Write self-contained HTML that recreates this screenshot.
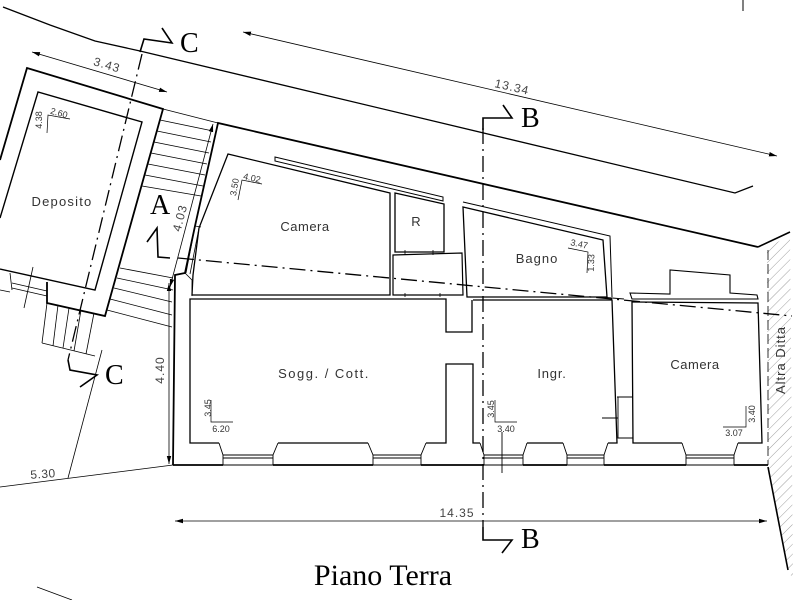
<!DOCTYPE html>
<html><head><meta charset="utf-8"><style>
html,body{margin:0;padding:0;background:#fff;}
svg{display:block}
text{font-family:"Liberation Sans",sans-serif;fill:#333}
.s{font-family:"Liberation Serif",serif;fill:#000;font-size:28px}
.r{font-size:13px}
.d{font-size:12px;fill:#444}
.m{font-size:9px;fill:#333}
</style></head><body>
<svg width="800" height="600" viewBox="0 0 800 600" xmlns="http://www.w3.org/2000/svg">
<defs>
<marker id="ar" viewBox="0 0 8 6" refX="8" refY="3" markerWidth="8" markerHeight="6" markerUnits="userSpaceOnUse" orient="auto-start-reverse"><path d="M0,0.8 L8,3 L0,5.2 z" fill="#000"/></marker>
<pattern id="h" patternUnits="userSpaceOnUse" width="7" height="7" patternTransform="rotate(45)"><line x1="0" y1="0" x2="0" y2="7" stroke="#888" stroke-width="0.8"/></pattern>
</defs>

<!-- hatched strip -->
<polygon points="767,248 790,235 793,578 788,572 768,467" fill="url(#h)" stroke="none"/>

<g fill="none" stroke="#000" stroke-linejoin="miter">
<!-- top boundary -->
<polyline points="3,7 50,25 95,41 140,51 735,193 753,186" stroke-width="1.3"/>
<line x1="743" y1="0" x2="743" y2="11" stroke-width="1"/>

<!-- dims -->
<g stroke-width="0.8">
<line x1="243" y1="32" x2="777" y2="156" marker-start="url(#ar)" marker-end="url(#ar)"/>
<line x1="32" y1="52" x2="167" y2="92" marker-start="url(#ar)" marker-end="url(#ar)"/>
<line x1="213" y1="124" x2="170" y2="287" marker-start="url(#ar)" marker-end="url(#ar)"/>
<line x1="169" y1="283" x2="169" y2="464" marker-start="url(#ar)" marker-end="url(#ar)"/>
<line x1="175" y1="521" x2="767" y2="521" marker-start="url(#ar)" marker-end="url(#ar)"/>
<line x1="0" y1="487" x2="173" y2="465"/>
<line x1="102" y1="350" x2="68" y2="478"/>
<line x1="37" y1="587" x2="72" y2="600"/>
</g>

<!-- Deposito -->
<path d="M0,160 L27,68 L163,109 L105,316 L47,303 L47,282" stroke-width="1.8"/>
<path d="M0,218 L38,92 L142,122 L95,290 L0,269" stroke-width="1.4"/>
<g stroke-width="0.8">
<line x1="0" y1="290" x2="10" y2="292"/>
<line x1="10" y1="273" x2="12" y2="290"/>
<line x1="12" y1="283" x2="47" y2="291"/>
<line x1="12" y1="288" x2="47" y2="296"/>
<line x1="33" y1="267" x2="24" y2="308"/>
<!-- lower-left stairs -->
<line x1="47" y1="303" x2="42" y2="343"/>
<line x1="42" y1="343" x2="95" y2="356"/>
<line x1="58" y1="305" x2="53" y2="346"/>
<line x1="69" y1="308" x2="63" y2="348"/>
<line x1="81" y1="310" x2="74" y2="351"/>
<line x1="94" y1="313" x2="86" y2="354"/>
<!-- upper stairs -->
<line x1="163" y1="109" x2="218" y2="123"/>
<line x1="160" y1="120" x2="213" y2="131"/>
<line x1="157" y1="131" x2="211" y2="142"/>
<line x1="154" y1="142" x2="209" y2="153"/>
<line x1="151" y1="153" x2="207" y2="164"/>
<line x1="148" y1="164" x2="205" y2="175"/>
<line x1="145" y1="175" x2="203" y2="186"/>
<line x1="142" y1="186" x2="201" y2="196"/>
<!-- lower stairs -->
<line x1="120" y1="268" x2="173" y2="278"/>
<line x1="117" y1="278" x2="173" y2="290"/>
<line x1="114" y1="288" x2="172" y2="302"/>
<line x1="110" y1="299" x2="172" y2="315"/>
<line x1="107" y1="310" x2="172" y2="327"/>
</g>

<!-- building outer wall -->
<path d="M758,247 L218,123 L195,226 L185,273 L175,275 L173,465" stroke-width="1.8"/>
<path d="M758,247 L790,232" stroke-width="1.6"/>
<line x1="768" y1="467" x2="788" y2="570" stroke-width="1.6"/>
<line x1="768" y1="250" x2="768" y2="465" stroke-width="0.8" stroke-dasharray="10 4"/>
<g stroke-width="0.8">
<line x1="199" y1="228" x2="190" y2="274"/>
<line x1="195" y1="226" x2="186" y2="273"/>
<line x1="195" y1="226" x2="201" y2="227"/>
<line x1="185" y1="273" x2="192" y2="280"/>
<line x1="192" y1="280" x2="192" y2="296"/>
</g>

<!-- outer bottom wall -->
<g stroke-width="1.8">
<line x1="173" y1="465" x2="223" y2="465"/>
<line x1="273" y1="465" x2="373" y2="465"/>
<line x1="421" y1="465" x2="484" y2="465"/>
<line x1="523" y1="465" x2="567" y2="465"/>
<line x1="604" y1="465" x2="686" y2="465"/>
<line x1="734" y1="465" x2="768" y2="465"/>
</g>
<g stroke-width="0.9">
<line x1="223" y1="465" x2="273" y2="465"/>
<line x1="373" y1="465" x2="421" y2="465"/>
<line x1="484" y1="465" x2="523" y2="465"/>
<line x1="567" y1="465" x2="604" y2="465"/>
<line x1="686" y1="465" x2="734" y2="465"/>
</g>
<!-- windows -->
<g stroke-width="0.9">
<path d="M219,443 L223,455 L223,465 M278,443 L273,455 L273,465 M223,455 H273 M223,458 H273"/>
<path d="M368,443 L373,455 L373,465 M426,443 L421,455 L421,465 M373,455 H421 M373,458 H421"/>
<path d="M480,443 L484,455 L484,465 M527,443 L523,455 L523,465 M484,455 H523 M484,458 H523"/>
<path d="M563,443 L567,455 L567,465 M608,443 L604,455 L604,465 M567,455 H604 M567,458 H604"/>
<path d="M682,443 L686,455 L686,465 M738,443 L734,455 L734,465 M686,455 H734 M686,458 H734"/>
</g>

<!-- Camera left -->
<path d="M228,154 L390,193 L390,295 L192,295 L193,275 L199,228 Z" stroke-width="1.3"/>
<polygon points="275,157 443,197 443,201 275,161" stroke-width="1"/>
<!-- R -->
<path d="M395,193 L444,204 L444,252 L395,252 Z" stroke-width="1.3"/>
<path d="M393,255 L462,253 L463,295 L393,295 Z" stroke-width="1.2"/>
<path d="M405,293 V297 M440,293 V297 M405,250 V255 M433,250 V255" stroke-width="0.8"/>
<!-- Bagno -->
<path d="M463,207 L603,240 L607,297 L467,297 Z" stroke-width="1.3"/>
<path d="M463,202 L610,236 L612,297" stroke-width="1"/>
<line x1="600" y1="297" x2="624" y2="299" stroke-width="1"/>

<!-- Sogg -->
<path d="M219,443 H190 V299 H446 V332 H472 V300" stroke-width="1.3"/>
<path d="M278,443 H368 M426,443 H446 V364 H473 V443 H480" stroke-width="1.3"/>
<!-- Ingr -->
<path d="M473,300 H612 L617,443 H608 M563,443 H527" stroke-width="1.3"/>
<!-- Camera right -->
<path d="M682,443 H633 L632,302 L758,303 L762,443 H738" stroke-width="1.3"/>
<path d="M630,293 L670,294 L670,270 L730,275 L730,293 L757,295 L758,299 L632,299 Z" stroke-width="1.1"/>
<!-- door between Ingr and Camera -->
<path d="M617,397 H633 M618,397 V438 H633 M602,418 H618" stroke-width="0.9"/>
<line x1="502" y1="432" x2="502" y2="473" stroke-width="0.9"/>

<!-- section lines -->
<g stroke-width="1.3" stroke-dasharray="16 5 2 5">
<line x1="142" y1="54" x2="68" y2="360"/>
<line x1="178" y1="258" x2="792" y2="316"/>
<line x1="483" y1="128" x2="483" y2="527"/>
</g>
<g stroke-width="1.6">
<polyline points="140,52 144,39 172,43 162,28"/>
<polyline points="68,360 70,370 97,375 80,387"/>
<polyline points="147,242 157,228 158,257 170,258"/>
<polyline points="483,130 483,118 512,118 503,105"/>
<polyline points="483,527 483,540 512,540 502,553"/>
</g>

<!-- small dim L marks -->
<g stroke-width="0.7">
<path d="M47,133 L48,115 L70,119"/>
<path d="M238,200 L242,180 L262,184"/>
<path d="M568,248 L588,252 L587,273"/>
<path d="M211,400 V422 H233"/>
<path d="M495,400 V422 H517"/>
<path d="M746,406 V427 H723"/>
</g>
</g>

<!-- section letters -->
<text class="s" x="180" y="52">C</text>
<text class="s" x="105" y="384">C</text>
<text class="s" x="150" y="214">A</text>
<text class="s" x="521" y="127">B</text>
<text class="s" x="521" y="548">B</text>

<!-- dim labels -->
<text class="d" x="107" y="69" text-anchor="middle" letter-spacing="1" transform="rotate(16.5 107 65)">3.43</text>
<text class="d" x="512" y="91" text-anchor="middle" letter-spacing="1" transform="rotate(13 512 87)">13.34</text>
<text class="d" x="180" y="222" text-anchor="middle" letter-spacing="1" transform="rotate(-75 180 218)">4.03</text>
<text class="d" x="160" y="374" text-anchor="middle" letter-spacing="1" transform="rotate(-90 160 370)">4.40</text>
<text class="d" x="457" y="517" text-anchor="middle" letter-spacing="1">14.35</text>
<text class="d" x="43" y="478" text-anchor="middle" letter-spacing="0.5" transform="rotate(-4 43 474)">5.30</text>

<!-- room labels -->
<text class="r" x="62" y="206" text-anchor="middle" letter-spacing="1.2">Deposito</text>
<text class="r" x="305" y="231" text-anchor="middle" letter-spacing="0.5">Camera</text>
<text class="r" x="416" y="226" text-anchor="middle">R</text>
<text class="r" x="537" y="263" text-anchor="middle" letter-spacing="1">Bagno</text>
<text class="r" x="324" y="378" text-anchor="middle" letter-spacing="1.5">Sogg. / Cott.</text>
<text class="r" x="552" y="378" text-anchor="middle" letter-spacing="0.8">Ingr.</text>
<text class="r" x="695" y="369" text-anchor="middle" letter-spacing="0.5">Camera</text>
<text class="r" x="781" y="364" text-anchor="middle" letter-spacing="1" transform="rotate(-90 781 360)">Altra Ditta</text>

<!-- small room dims -->
<text class="m" x="45" y="123" text-anchor="middle" transform="rotate(-90 42 123)">4.38</text>
<text class="m" x="59" y="116" text-anchor="middle" transform="rotate(16 59 113)">2.60</text>
<text class="m" x="252" y="181" text-anchor="middle" transform="rotate(13 252 178)">4.02</text>
<text class="m" x="237" y="193" text-anchor="middle" transform="rotate(-80 234 190)">3.50</text>
<text class="m" x="579" y="247" text-anchor="middle" transform="rotate(12 579 245)">3.47</text>
<text class="m" x="597" y="266" text-anchor="middle" transform="rotate(-88 594 266)">1.33</text>
<text class="m" x="211" y="414" text-anchor="middle" transform="rotate(-90 208 411)">3.45</text>
<text class="m" x="221" y="432" text-anchor="middle">6.20</text>
<text class="m" x="494" y="415" text-anchor="middle" transform="rotate(-90 491 412)">3.45</text>
<text class="m" x="506" y="432" text-anchor="middle">3.40</text>
<text class="m" x="755" y="420" text-anchor="middle" transform="rotate(-90 752 417)">3.40</text>
<text class="m" x="734" y="436" text-anchor="middle">3.07</text>

<!-- title -->
<text class="s" x="383" y="585" text-anchor="middle" style="font-size:30px">Piano Terra</text>
</svg>
</body></html>
